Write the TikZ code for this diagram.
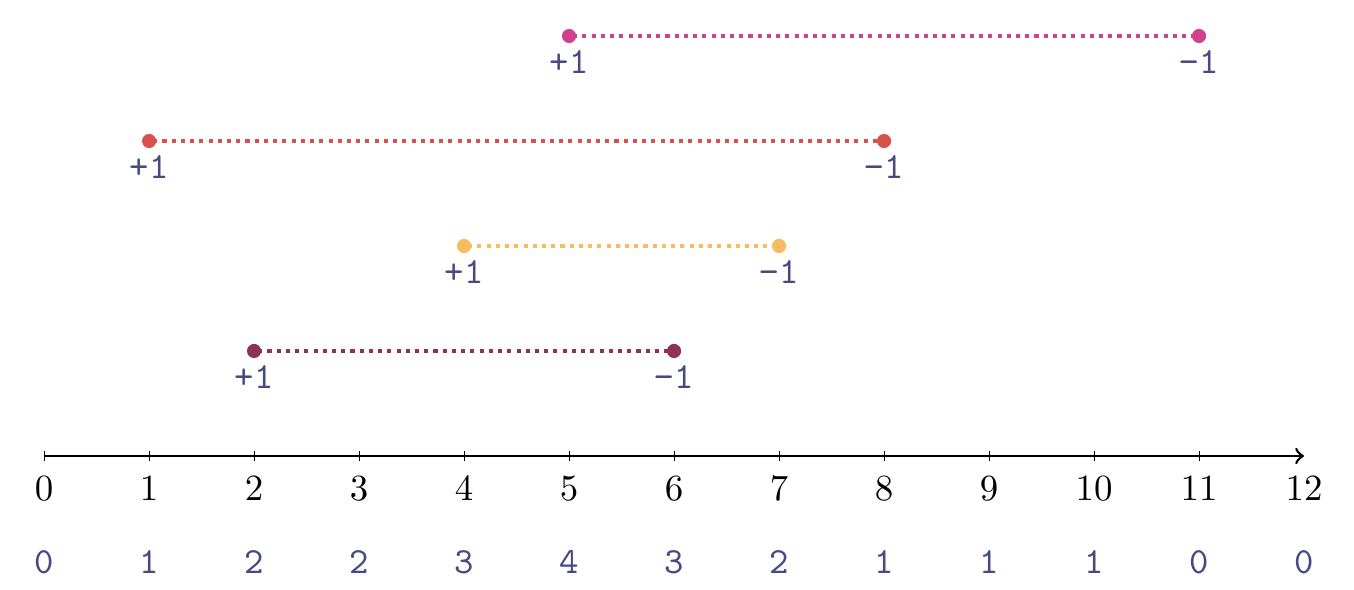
\documentclass[tikz,border=0pt]{standalone}
\usepackage{amsmath}
\usepackage{tikz}

\definecolor{ivA}{HTML}{D1418D}
\definecolor{ivB}{HTML}{D8524C}
\definecolor{ivC}{HTML}{F7BC5E}
\definecolor{ivD}{HTML}{8E3357}
\definecolor{cnt}{HTML}{454A82}

\tikzset{
  endpt/.style={circle, fill=#1, inner sep=0pt, minimum size=0.135cm},
  ivline/.style={#1, line width=1.1pt, dash pattern=on 1.1pt off 1.4pt, shorten <=-1pt, shorten >=-1pt},
  sgn/.style={text=cnt, font=\ttfamily, inner sep=1pt},
  cntlab/.style={text=cnt, font=\ttfamily}
}

\begin{document}
\begin{tikzpicture}
    \useasboundingbox (-0.42,-1.276) rectangle (12.476,4.343);
    % axis
    \coordinate (O) at (0,0);
    \coordinate (E) at (12,0);
    \draw[line width=0.7pt,->] (O) -- (E);
    \foreach \i in {0,...,11} {
        \draw[very thin] (\i,-0.05) -- (\i,0.05);
    }
    \foreach \i in {0,...,12} {
        \node (x\i) at (\i,-0.31) {$\i$};
    }
    % counts
    \node[cntlab] (c0) at (0,-1.01) {0};
    \node[cntlab] (c1) at (1,-1.01) {1};
    \node[cntlab] (c2) at (2,-1.01) {2};
    \node[cntlab] (c3) at (3,-1.01) {2};
    \node[cntlab] (c4) at (4,-1.01) {3};
    \node[cntlab] (c5) at (5,-1.01) {4};
    \node[cntlab] (c6) at (6,-1.01) {3};
    \node[cntlab] (c7) at (7,-1.01) {2};
    \node[cntlab] (c8) at (8,-1.01) {1};
    \node[cntlab] (c9) at (9,-1.01) {1};
    \node[cntlab] (c10) at (10,-1.01) {1};
    \node[cntlab] (c11) at (11,-1.01) {0};
    \node[cntlab] (c12) at (12,-1.01) {0};
    % intervals
    \node[endpt=ivD] (D1) at (2,1) {};
    \node[endpt=ivD] (D2) at (6,1) {};
    \draw[ivline=ivD] (D1) -- (D2);
    \node[sgn] at (2,0.75) {+1};
    \node[sgn] at (6,0.75) {−1};
    \node[endpt=ivC] (C1) at (4,2) {};
    \node[endpt=ivC] (C2) at (7,2) {};
    \draw[ivline=ivC] (C1) -- (C2);
    \node[sgn] at (4,1.75) {+1};
    \node[sgn] at (7,1.75) {−1};
    \node[endpt=ivB] (B1) at (1,3) {};
    \node[endpt=ivB] (B2) at (8,3) {};
    \draw[ivline=ivB] (B1) -- (B2);
    \node[sgn] at (1,2.75) {+1};
    \node[sgn] at (8,2.75) {−1};
    \node[endpt=ivA] (A1) at (5,4) {};
    \node[endpt=ivA] (A2) at (11,4) {};
    \draw[ivline=ivA] (A1) -- (A2);
    \node[sgn] at (5,3.75) {+1};
    \node[sgn] at (11,3.75) {−1};
\end{tikzpicture}
\end{document}
